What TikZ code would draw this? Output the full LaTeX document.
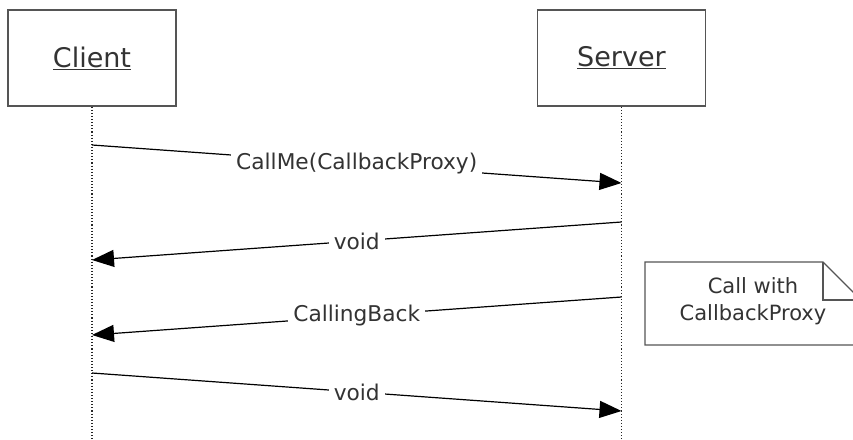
\documentclass[tikz,border=0pt]{standalone}
\usepackage{fontspec}
\setmainfont{DejaVu Sans}
\usepackage{tikz}
\usetikzlibrary{calc}
\usetikzlibrary{arrows.meta}

\definecolor{inkgray}{HTML}{333333}
\definecolor{boxgray}{HTML}{555555}

\begin{document}
\begin{tikzpicture}[x=1pt,y=-1pt,
    actor/.style={draw=boxgray,line width=1.3pt,minimum width=168pt,minimum height=96pt,
      text=inkgray,font=\fontsize{27}{32}\selectfont},
    lifeline/.style={dotted,line width=1.1pt,black!85},
    msg/.style={line width=1.2pt,-{Triangle[length=22pt,width=17pt]}},
    lbl/.style={fill=white,text=inkgray,inner xsep=5pt,inner ysep=1pt,
      font=\fontsize{21.7}{26}\selectfont},
    notebox/.style={draw=boxgray,line width=1.2pt,line join=miter}
  ]
        \useasboundingbox (0,0) rectangle (853,439);
        \clip (0,0) rectangle (853,439);

        \node[actor] (client) at (92,58) {\underline{Client}};
        \node[actor] (server) at (621.5,58) {\underline{Server}};

        % lifelines
        \coordinate (clientend) at (92,440);
        \coordinate (serverend) at (621.5,440);
        \draw[lifeline] (client.south) -- (clientend);
        \draw[lifeline] (server.south) -- (serverend);

        % first call
        \coordinate (c1) at (92,145);
        \coordinate (s1) at (621.5,183);
        \draw[msg] (c1) -- node[lbl] {CallMe(CallbackProxy)} (s1);

        % its return
        \coordinate (s2) at (621.5,222);
        \coordinate (c2) at (92,260);
        \draw[msg] (s2) -- node[lbl] {void} (c2);

        % call back
        \coordinate (s3) at (621.5,297);
        \coordinate (c3) at (92,335);
        \draw[msg] (s3) -- node[lbl] {CallingBack} (c3);

        % its return
        \coordinate (c4) at (92,373);
        \coordinate (s4) at (621.5,411);
        \draw[msg] (c4) -- node[lbl] {void} (s4);

        % note
        \node[text=inkgray,align=center,font=\fontsize{21}{27}\selectfont] (memo) at (753,301) {Call with\\CallbackProxy};
        \draw[notebox] (645,262) -- (823,262) -- (861,300) -- (861,345) -- (645,345) -- cycle;
        \draw[notebox] (823,262) -- (823,300) -- (861,300);

\end{tikzpicture}
\end{document}
